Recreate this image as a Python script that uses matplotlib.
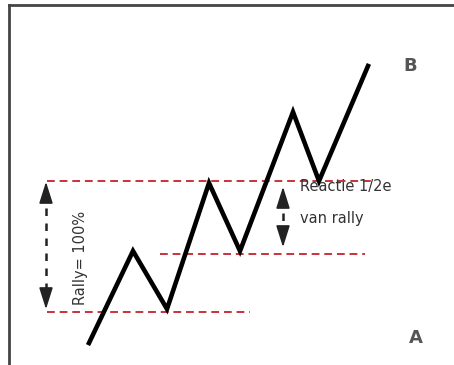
import matplotlib.pyplot as plt

# zigzag price path (pixel-like coordinates, y downwards)
path_x = [89, 133, 167, 209, 240, 293, 319, 368]
path_y = [343, 251, 309, 183, 251, 112, 181, 66]

# red dashed levels: (y, x_start, x_end)
level_y = [181, 254, 312]
level_x0 = [47, 160, 47]
level_x1 = [372, 365, 250]

fig = plt.figure(figsize=(4.54, 3.65), dpi=100)
ax = fig.add_axes([0, 0, 1, 1])
ax.set_xlim(0, 454)
ax.set_ylim(365, 0)
ax.axis('off')

# frame
ax.plot([9, 9], [365, 5], color='#444444', lw=2)
ax.plot([9, 454], [5, 5], color='#444444', lw=2)

for y, x0, x1 in zip(level_y, level_x0, level_x1):
    ax.plot([x0, x1], [y, y], color='#c8323c', lw=1.4, ls=(0, (4, 2.5)))

ax.plot(path_x, path_y, color='black', lw=3.3, solid_joinstyle='miter')

# double arrows
def darrow(x, y0, y1):
    ax.plot([x, x], [y0 + 14, y1 - 14], color='#222222', lw=1.8, ls=(0, (3, 3)))
    style = '-|>,head_length=0.95,head_width=0.3'
    ax.annotate('', xy=(x, y0), xytext=(x, y0 + 18),
                arrowprops=dict(arrowstyle=style, color='#222222', lw=1.2, mutation_scale=14))
    ax.annotate('', xy=(x, y1), xytext=(x, y1 - 18),
                arrowprops=dict(arrowstyle=style, color='#222222', lw=1.2, mutation_scale=14))

darrow(46, 179, 312)
darrow(283, 184, 250)

ax.text(80, 258, 'Rally= 100%', rotation=90, ha='center', va='center',
        fontsize=10.5, color='#333333')
ax.text(300, 187, 'Reactie 1/2e', ha='left', va='center', fontsize=10.5, color='#333333')
ax.text(300, 218, 'van rally', ha='left', va='center', fontsize=10.5, color='#333333')
ax.text(410, 66, 'B', ha='center', va='center', fontsize=13, fontweight='bold', color='#555555')
ax.text(416, 338, 'A', ha='center', va='center', fontsize=13, fontweight='bold', color='#555555')

fig.savefig('out.png', dpi=100)
